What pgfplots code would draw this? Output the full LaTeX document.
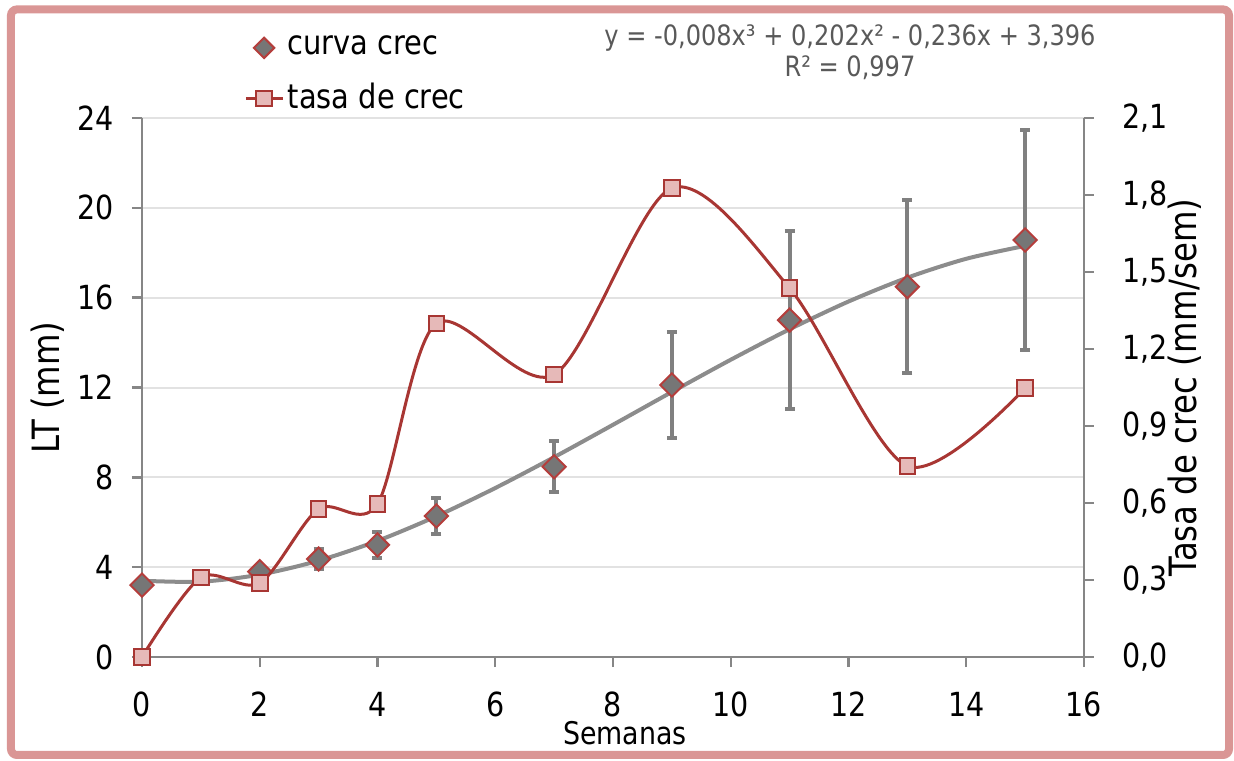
\documentclass[border=0pt]{standalone}
\usepackage{fontspec}
\setmainfont{DejaVu Sans}[FakeStretch=0.86]
\usepackage{pgfplots}
\pgfplotsset{compat=1.18}

\definecolor{framepink}{RGB}{218,150,149}
\definecolor{axisgray}{RGB}{134,134,134}
\definecolor{gridgray}{RGB}{226,226,226}
\definecolor{redline}{RGB}{168,54,51}
\definecolor{squarefill}{RGB}{230,185,184}
\definecolor{diamondgray}{RGB}{118,118,118}
\definecolor{diamondedge}{RGB}{180,62,60}
\definecolor{trendgray}{RGB}{140,140,140}
\definecolor{errgray}{RGB}{128,128,128}
\definecolor{eqgray}{RGB}{89,89,89}

\pgfplotsset{
  base/.style={
    width=235.5pt, height=134.75pt, scale only axis,
    xmin=0, xmax=16,
    axis line style={axisgray, line width=0.6pt, -},
    tick style={axisgray, line width=0.6pt},
    tick align=outside, major tick length=2.5pt,
    tick label style={font=\fontsize{8.3}{9.5}\selectfont},
    label style={font=\fontsize{9.4}{11}\selectfont},
    /pgf/number format/assume math mode=true,
    legend image code/.code={\draw[mark repeat=2,mark phase=2,##1] plot coordinates {(0cm,0cm) (0.16cm,0cm) (0.32cm,0cm)};},
  },
}

\begin{document}
\begin{tikzpicture}
\useasboundingbox (-35.5pt,-26pt) rectangle (273pt,164.25pt);
\draw[framepink, line width=2pt, rounded corners=1.5pt] (-32.75pt,-24.5pt) rectangle (271.75pt,161.9pt);

\begin{axis}[
  base,
  ymin=0, ymax=24,
  xtick={0,2,...,16}, ytick={0,4,...,24},
  axis x line*=bottom, axis y line*=left,
  ymajorgrids, grid style={gridgray, line width=0.5pt},
  xticklabel style={yshift=-2.75pt},
  yticklabel style={xshift=-1pt},
  xlabel={Semanas},
  xlabel style={font=\fontsize{7.8}{9}\selectfont, at={(axis description cs:0.5127,-0.141)}, anchor=center},
  ylabel={LT (mm)},
  ylabel style={at={(axis description cs:-0.0998,0.5)}, anchor=center},
]
\addplot[trendgray, line width=1pt, smooth, forget plot] coordinates {
  (0,3.396) (1,3.354) (2,3.668) (3,4.290) (4,5.172) (5,6.266) (6,7.524)
  (7,8.898) (8,10.340) (9,11.802) (10,13.236) (11,14.594) (12,15.828)
  (13,16.890) (14,17.732) (15,18.306)
};
\addplot[only marks, mark=square*, mark size=2.05pt,
  mark options={rotate=45, fill=diamondgray, draw=diamondedge, line width=0.5pt},
  error bars/.cd, y dir=both, y explicit,
  error bar style={errgray, line width=1pt},
  error mark options={rotate=90, errgray, line width=1pt, mark size=1.25pt}]
  coordinates {
  (0,3.2) +- (0,0)
  (2,3.8) +- (0,0)
  (3,4.36) +- (0,0.45)
  (4,4.99) +- (0,0.56)
  (5,6.28) +- (0,0.8)
  (7,8.47) +- (0,1.13)
  (9,12.11) +- (0,2.37)
  (11,15.0) +- (0,3.95)
  (13,16.49) +- (0,3.86)
  (15,18.57) +- (0,4.9)
};
\end{axis}

\begin{axis}[
  base,
  ymin=0, ymax=2.1,
  ytick={0,0.3,0.6,0.9,1.2,1.5,1.8,2.1},
  axis y line*=right, axis x line=none,
  yticklabel shift=3.5pt,
  yticklabel style={/pgf/number format/.cd, fixed, fixed zerofill, precision=1, use comma},
  ylabel={Tasa de crec (mm/sem)},
  ylabel style={at={(axis description cs:1.107,0.5)}, anchor=center},
  legend style={draw=none, fill=none, at={(axis description cs:0.1078,1.162)}, anchor=north west,
    font=\fontsize{8.4}{9.6}\selectfont, row sep=3.6pt, inner sep=0pt, nodes={inner sep=1pt}},
  legend cell align=left,
]
\addlegendimage{only marks, mark=square*, mark size=1.8pt,
  mark options={rotate=45, fill=diamondgray, draw=diamondedge, line width=0.5pt}}
\addlegendentry{curva crec}
\addplot[redline, line width=0.75pt, smooth, mark=square*, mark size=1.95pt,
  mark options={fill=squarefill, draw=redline, line width=0.5pt}]
  coordinates {
  (0,0.0) (1,0.31) (2,0.288) (3,0.577) (4,0.596) (5,1.30) (7,1.10)
  (9,1.827) (11,1.437) (13,0.744) (15,1.048)
};
\addlegendentry{tasa de crec}
\end{axis}

\node[font=\fontsize{7}{7.75}\selectfont, text=eqgray, align=center] at (177pt,151.1pt)
  {y = -0,008x³ + 0,202x² - 0,236x + 3,396\\R² = 0,997};
\end{tikzpicture}
\end{document}
